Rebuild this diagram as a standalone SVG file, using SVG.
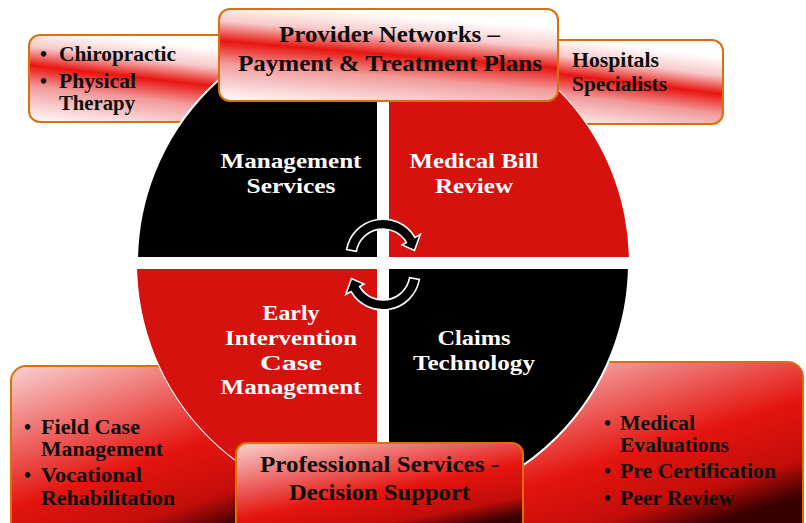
<svg xmlns="http://www.w3.org/2000/svg" width="806" height="523" viewBox="0 0 806 523">
<defs>
<linearGradient id="gT" x1="0.3" y1="0" x2="0" y2="1">
<stop offset="0" stop-color="#ffffff"/>
<stop offset="0.2" stop-color="#f8c9c9"/>
<stop offset="0.4" stop-color="#e8140f"/>
<stop offset="0.62" stop-color="#f19a9a"/>
<stop offset="1" stop-color="#ffffff"/>
</linearGradient>
<linearGradient id="gB" x1="0" y1="0" x2="0.6" y2="1">
<stop offset="0" stop-color="#f9d2d2"/>
<stop offset="0.6" stop-color="#e5140f"/>
<stop offset="0.85" stop-color="#c20d0a"/>
<stop offset="1" stop-color="#3a0000"/>
</linearGradient>
<style>
.box{stroke:#d8700c;stroke-width:2}
.t{font-family:"Liberation Serif","Times New Roman",serif;font-weight:bold;fill:#0d0d0d}
.hd{font-size:24px}
.li{font-size:20px}
.q{font-family:"Liberation Serif","Times New Roman",serif;font-weight:bold;font-size:22px;fill:#ffffff;text-anchor:middle}
.arrow{fill:#000;stroke:#fff;stroke-width:1.6;stroke-linejoin:miter}
</style>
</defs>
<rect width="806" height="523" fill="#ffffff"/>

<g id="chiropractic">
<rect class="box" x="29" y="35" width="230" height="87" rx="11" fill="url(#gT)"/>
<text class="t li" x="40" y="61">•</text>
<text class="t li" x="59" y="61" textLength="117" lengthAdjust="spacingAndGlyphs">Chiropractic</text>
<text class="t li" x="40" y="88">•</text>
<text class="t li" x="59" y="88" textLength="77" lengthAdjust="spacingAndGlyphs">Physical</text>
<text class="t li" x="59" y="110" textLength="76" lengthAdjust="spacingAndGlyphs">Therapy</text>
</g>

<g id="hospitals">
<rect class="box" x="520" y="40" width="203" height="84" rx="11" fill="url(#gT)"/>
<text class="t li" x="572" y="67" textLength="87" lengthAdjust="spacingAndGlyphs">Hospitals</text>
<text class="t li" x="572" y="91" textLength="95" lengthAdjust="spacingAndGlyphs">Specialists</text>
</g>

<g id="field-case">
<rect class="box" x="11" y="366" width="300" height="175" rx="15" fill="url(#gB)"/>
<text class="t li" x="24" y="434">•</text>
<text class="t li" x="41" y="434" textLength="99" lengthAdjust="spacingAndGlyphs">Field  Case</text>
<text class="t li" x="41" y="456" textLength="122" lengthAdjust="spacingAndGlyphs">Management</text>
<text class="t li" x="24" y="482">•</text>
<text class="t li" x="41" y="482" textLength="101" lengthAdjust="spacingAndGlyphs">Vocational</text>
<text class="t li" x="41" y="505" textLength="134" lengthAdjust="spacingAndGlyphs">Rehabilitation</text>
</g>

<g id="medical-evaluations">
<rect class="box" x="470" y="362" width="333" height="175" rx="15" fill="url(#gB)"/>
<text class="t li" x="604" y="430">•</text>
<text class="t li" x="620" y="430" textLength="75" lengthAdjust="spacingAndGlyphs">Medical</text>
<text class="t li" x="620" y="452" textLength="109" lengthAdjust="spacingAndGlyphs">Evaluations</text>
<text class="t li" x="604" y="478">•</text>
<text class="t li" x="620" y="478" textLength="156" lengthAdjust="spacingAndGlyphs">Pre Certification</text>
<text class="t li" x="604" y="505">•</text>
<text class="t li" x="620" y="505" textLength="114" lengthAdjust="spacingAndGlyphs">Peer Review</text>
</g>

<g id="wheel">
<circle cx="383" cy="263" r="246" fill="#000000" stroke="#ffffff" stroke-width="2"/>
<path d="M383 263 L383 17 A246 246 0 0 1 629 263 Z" fill="#d6120e"/>
<path d="M383 263 L383 509 A246 246 0 0 1 137 263 Z" fill="#d6120e"/>
<rect x="377" y="15" width="12" height="497" fill="#ffffff"/>
<rect x="134" y="257" width="498" height="12" fill="#ffffff"/>
</g>

<g id="management-services">
<text class="q" x="291" y="168" textLength="141" lengthAdjust="spacingAndGlyphs">Management</text>
<text class="q" x="291" y="193" textLength="89" lengthAdjust="spacingAndGlyphs">Services</text>
</g>
<g id="medical-bill-review">
<text class="q" x="474" y="168" textLength="129" lengthAdjust="spacingAndGlyphs">Medical Bill</text>
<text class="q" x="474" y="193" textLength="78" lengthAdjust="spacingAndGlyphs">Review</text>
</g>
<g id="early-intervention">
<text class="q" x="291" y="320" textLength="57" lengthAdjust="spacingAndGlyphs">Early</text>
<text class="q" x="291" y="345" textLength="132" lengthAdjust="spacingAndGlyphs">Intervention</text>
<text class="q" x="291" y="370" textLength="62" lengthAdjust="spacingAndGlyphs">Case</text>
<text class="q" x="291" y="394" textLength="141" lengthAdjust="spacingAndGlyphs">Management</text>
</g>
<g id="claims-technology">
<text class="q" x="474" y="345" textLength="73" lengthAdjust="spacingAndGlyphs">Claims</text>
<text class="q" x="474" y="370" textLength="122" lengthAdjust="spacingAndGlyphs">Technology</text>
</g>

<g id="connectors">
<path class="arrow" d="M346.6 249.6 A37 37 0 0 1 415 237.5 L420.2 234.5 L414.5 250.4 L402.1 245 L406.4 242.5 A27 27 0 0 0 356.4 251.3 Z"/>
<path class="arrow" transform="rotate(180 383 263) translate(0 -3)" d="M346.6 249.6 A37 37 0 0 1 415 237.5 L420.2 234.5 L414.5 250.4 L402.1 245 L406.4 242.5 A27 27 0 0 0 356.4 251.3 Z"/>
</g>

<g id="provider-networks">
<rect class="box" x="219" y="9" width="339" height="92" rx="11" fill="url(#gT)"/>
<text class="t hd" x="279" y="42" textLength="221" lengthAdjust="spacingAndGlyphs">Provider Networks –</text>
<text class="t hd" x="238" y="71" textLength="304" lengthAdjust="spacingAndGlyphs">Payment &amp; Treatment Plans</text>
</g>

<g id="professional-services">
<rect class="box" x="236" y="443" width="287" height="95" rx="11" fill="url(#gB)"/>
<text class="t hd" x="260" y="472" textLength="239" lengthAdjust="spacingAndGlyphs">Professional Services -</text>
<text class="t hd" x="289" y="500" textLength="181" lengthAdjust="spacingAndGlyphs">Decision Support</text>
</g>
</svg>
